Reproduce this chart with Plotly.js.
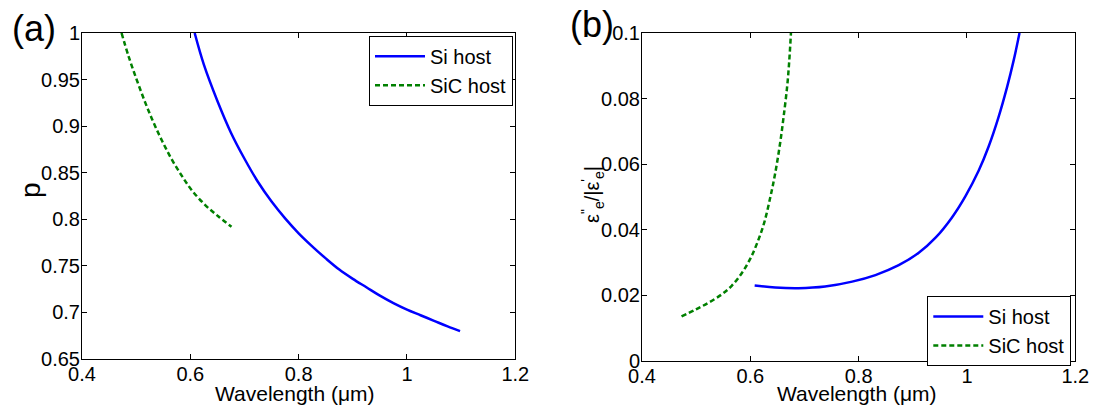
<!DOCTYPE html>
<html>
<head>
<meta charset="utf-8">
<script src="https://cdn.plot.ly/plotly-3.0.1.min.js"></script>
<style>html,body{margin:0;padding:0;background:#fff;}#chart{width:1095px;height:411px;}</style>
</head>
<body>
<div id="chart"></div>
<script>
// Panel (a): p vs wavelength
const aSiX  = [0.608, 0.625, 0.650, 0.675, 0.700, 0.725, 0.750, 0.775, 0.800, 0.825, 0.850, 0.875, 0.900, 0.925, 0.950, 0.975, 1.000, 1.025, 1.050, 1.075, 1.098];
const aSiY  = [1.000, 0.966, 0.927, 0.893, 0.865, 0.840, 0.819, 0.801, 0.785, 0.771, 0.758, 0.746, 0.736, 0.727, 0.718, 0.710, 0.703, 0.697, 0.691, 0.685, 0.680];
const aSiCX = [0.473, 0.486, 0.5015, 0.517, 0.532, 0.548, 0.566, 0.585, 0.603, 0.628, 0.652, 0.676];
const aSiCY = [1.000, 0.975, 0.949, 0.925, 0.904, 0.884, 0.864, 0.846, 0.831, 0.815, 0.803, 0.792];
// Panel (b): eps''/|eps'| vs wavelength
const bSiX  = [0.608, 0.646, 0.689, 0.738, 0.788, 0.831, 0.874, 0.911, 0.942, 0.972, 0.997, 1.0215, 1.040, 1.058, 1.074, 1.086, 1.097];
const bSiY  = [0.0230, 0.0224, 0.0222, 0.0227, 0.0242, 0.0262, 0.0292, 0.0330, 0.0376, 0.0437, 0.0502, 0.0580, 0.0654, 0.0742, 0.0835, 0.0915, 0.1000];
const bSiCX = [0.473, 0.498, 0.523, 0.548, 0.566, 0.585, 0.600, 0.612, 0.625, 0.637, 0.646, 0.655, 0.6615, 0.668, 0.672, 0.675];
const bSiCY = [0.0136, 0.0156, 0.0178, 0.0204, 0.0230, 0.0270, 0.0312, 0.0357, 0.0418, 0.0500, 0.0573, 0.0664, 0.0745, 0.0837, 0.0918, 0.1000];

const xTicks = [0.4, 0.6, 0.8, 1, 1.2];
const xTickText = ['0.4', '0.6', '0.8', '1', '1.2'];
const aYTicks = [0.65, 0.7, 0.75, 0.8, 0.85, 0.9, 0.95, 1];
const aYTickText = ['0.65', '0.7', '0.75', '0.8', '0.85', '0.9', '0.95', '1'];
const bYTicks = [0, 0.02, 0.04, 0.06, 0.08, 0.1];
const bYTickText = ['0', '0.02', '0.04', '0.06', '0.08', '0.1'];
const seriesNames = ['Si host', 'SiC host'];
const xTitle = 'Wavelength (μm)';
const aYTitle = 'p';
const bYTitle = 'ε<sup>"</sup><sub>e</sub>/|ε<sup>\'</sup><sub>e</sub>|';

const FONT = 'Liberation Sans, Arial, sans-serif';
const FS = 20;
const blue = '#0000ff', green = '#008000';
const W = 1095, TOP = 33, BOT = 361, PH = BOT - TOP;
const py = v => (BOT - v) / PH;   // pixel y -> paper y
const px = v => v / W;            // pixel x -> paper x

const traces = [
  {x: aSiX, y: aSiY, name: seriesNames[0], mode: 'lines', line: {color: blue, width: 2.5, shape: 'spline'}, xaxis: 'x', yaxis: 'y', legend: 'legend'},
  {x: aSiCX, y: aSiCY, name: seriesNames[1], mode: 'lines', line: {color: green, width: 2.5, dash: '5px,3px', shape: 'spline'}, xaxis: 'x', yaxis: 'y', legend: 'legend'},
  {x: bSiX, y: bSiY, name: seriesNames[0], mode: 'lines', line: {color: blue, width: 2.5, shape: 'spline'}, xaxis: 'x2', yaxis: 'y2', legend: 'legend2'},
  {x: bSiCX, y: bSiCY, name: seriesNames[1], mode: 'lines', line: {color: green, width: 2.5, dash: '5px,3px', shape: 'spline'}, xaxis: 'x2', yaxis: 'y2', legend: 'legend2'}
];

const axBase = {
  showline: true, linecolor: '#000', linewidth: 1, mirror: 'ticks',
  ticks: 'inside', ticklen: 5, tickcolor: '#000', tickwidth: 1,
  showgrid: false, zeroline: false, ticklabelstandoff: -3,
  tickfont: {family: FONT, size: FS, color: '#000'}
};

const annFont = s => ({family: FONT, size: s, color: '#000'});

const layout = {
  width: W, height: 411,
  margin: {l: 0, r: 0, t: TOP, b: 411 - BOT},
  paper_bgcolor: '#fff', plot_bgcolor: '#fff',
  font: {family: FONT, size: FS, color: '#000'},
  xaxis: Object.assign({}, axBase, {domain: [px(82), px(515.3)], range: [0.4, 1.2], tickvals: xTicks, ticktext: xTickText, anchor: 'y'}),
  yaxis: Object.assign({}, axBase, {domain: [py(359), 1], range: [0.65, 1], tickvals: aYTicks, ticktext: aYTickText, anchor: 'x'}),
  xaxis2: Object.assign({}, axBase, {domain: [px(642), px(1075.3)], range: [0.4, 1.2], tickvals: xTicks, ticktext: xTickText, anchor: 'y2'}),
  yaxis2: Object.assign({}, axBase, {domain: [0, 1], range: [0, 0.1], tickvals: bYTicks, ticktext: bYTickText, anchor: 'x2'}),
  legend: {x: px(513), xanchor: 'right', y: py(35.7), yanchor: 'top', bordercolor: '#000', borderwidth: 1, bgcolor: '#fff',
    font: {family: FONT, size: 20}, tracegroupgap: 0, itemwidth: 50},
  legend2: {x: px(1071.3), xanchor: 'right', y: py(296), yanchor: 'top', bordercolor: '#000', borderwidth: 1, bgcolor: '#fff',
    font: {family: FONT, size: 20}, tracegroupgap: 0, itemwidth: 50},
  showlegend: true,
  annotations: [
    {text: '(a)', x: px(34), y: py(29), xref: 'paper', yref: 'paper', showarrow: false, font: annFont(36), xanchor: 'center', yanchor: 'middle'},
    {text: '(b)', x: px(592), y: py(25), xref: 'paper', yref: 'paper', showarrow: false, font: annFont(36), xanchor: 'center', yanchor: 'middle'},
    {text: xTitle, x: px(295), y: py(393), xref: 'paper', yref: 'paper', showarrow: false, font: annFont(21), xanchor: 'center', yanchor: 'middle'},
    {text: xTitle, x: px(857), y: py(393), xref: 'paper', yref: 'paper', showarrow: false, font: annFont(21), xanchor: 'center', yanchor: 'middle'},
    {text: aYTitle, x: px(30), y: py(190), xref: 'paper', yref: 'paper', showarrow: false, font: annFont(28), textangle: -90, xanchor: 'center', yanchor: 'middle'},
    {text: bYTitle, x: px(592), y: py(195), xref: 'paper', yref: 'paper', showarrow: false, font: annFont(20), textangle: -90, xanchor: 'center', yanchor: 'middle'}
  ]
};

Plotly.newPlot('chart', traces, layout, {displayModeBar: false, staticPlot: true});
</script>
</body>
</html>
